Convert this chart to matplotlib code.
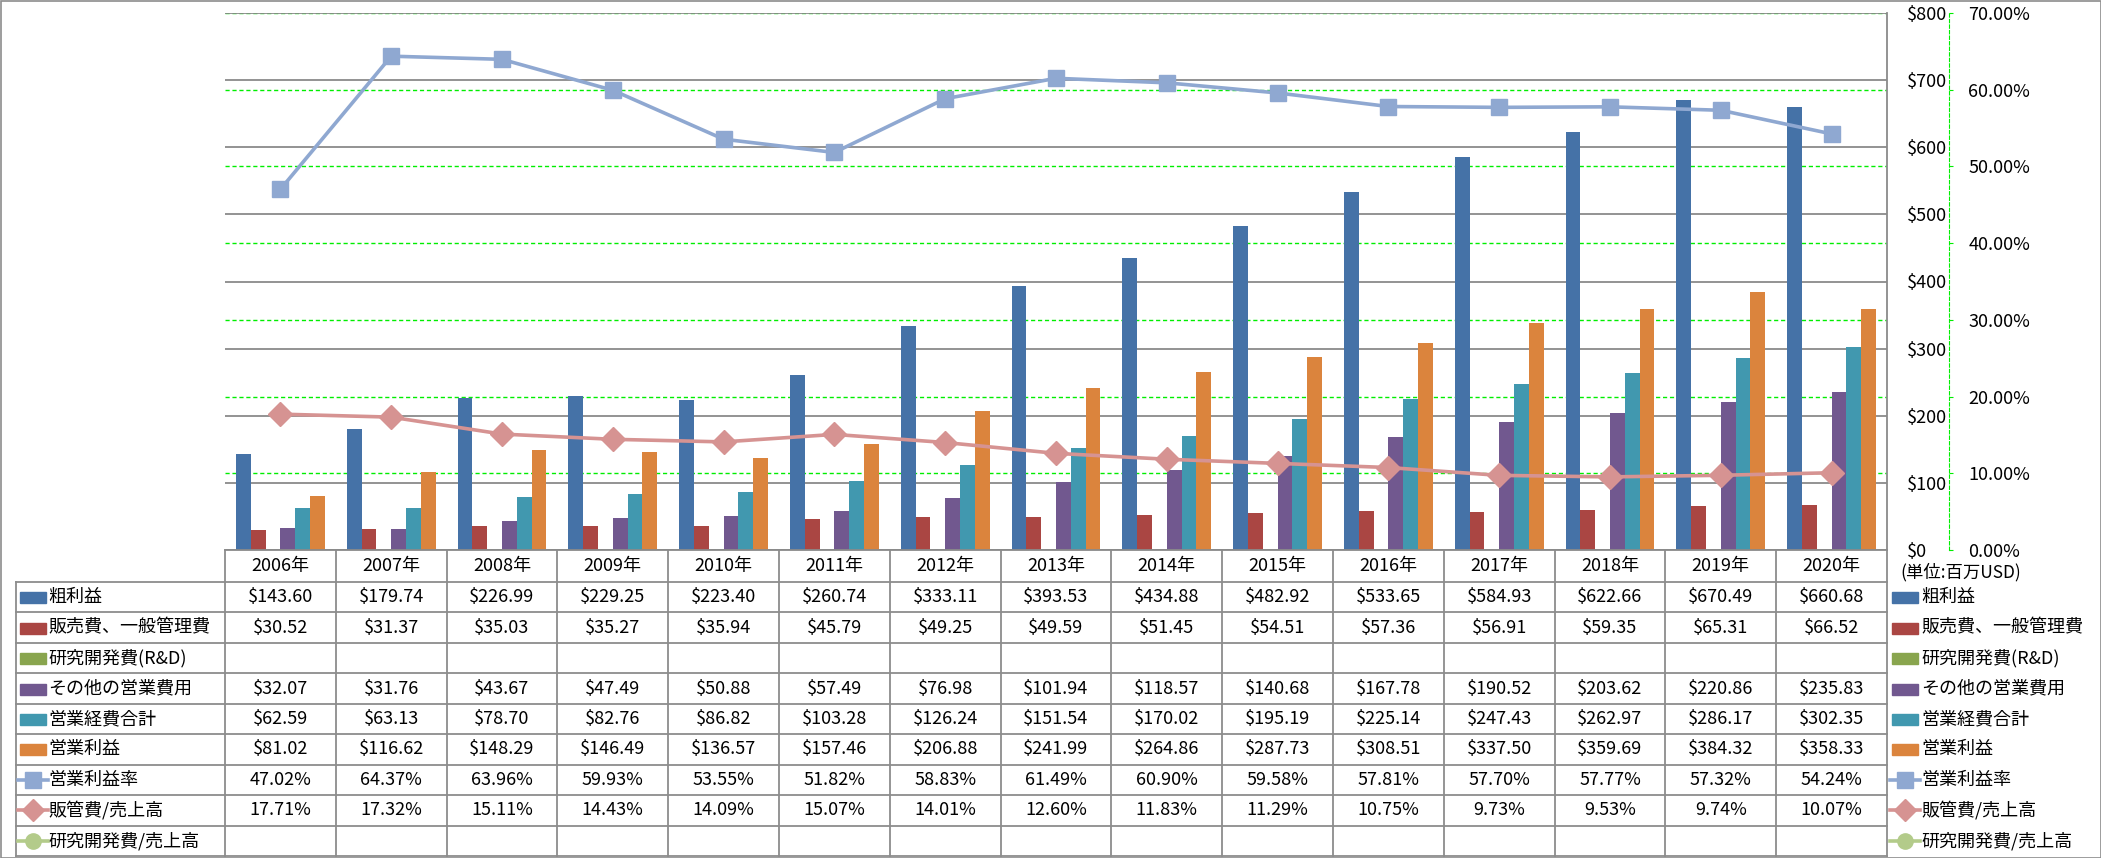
import numpy as np
import matplotlib
matplotlib.use('Agg')
import matplotlib.pyplot as plt
from matplotlib.transforms import blended_transform_factory
from matplotlib.lines import Line2D
from matplotlib.patches import Rectangle

plt.rcParams['font.family'] = ['Noto Sans CJK JP', 'DejaVu Sans']

# data (USD millions / percent)
years = ['2006年', '2007年', '2008年', '2009年', '2010年', '2011年', '2012年', '2013年',
         '2014年', '2015年', '2016年', '2017年', '2018年', '2019年', '2020年']
gross = [143.60, 179.74, 226.99, 229.25, 223.40, 260.74, 333.11, 393.53,
         434.88, 482.92, 533.65, 584.93, 622.66, 670.49, 660.68]
sga = [30.52, 31.37, 35.03, 35.27, 35.94, 45.79, 49.25, 49.59,
       51.45, 54.51, 57.36, 56.91, 59.35, 65.31, 66.52]
rnd = [None] * 15
other = [32.07, 31.76, 43.67, 47.49, 50.88, 57.49, 76.98, 101.94,
         118.57, 140.68, 167.78, 190.52, 203.62, 220.86, 235.83]
opex = [62.59, 63.13, 78.70, 82.76, 86.82, 103.28, 126.24, 151.54,
        170.02, 195.19, 225.14, 247.43, 262.97, 286.17, 302.35]
opinc = [81.02, 116.62, 148.29, 146.49, 136.57, 157.46, 206.88, 241.99,
         264.86, 287.73, 308.51, 337.50, 359.69, 384.32, 358.33]
op_margin = [47.02, 64.37, 63.96, 59.93, 53.55, 51.82, 58.83, 61.49,
             60.90, 59.58, 57.81, 57.70, 57.77, 57.32, 54.24]
sga_ratio = [17.71, 17.32, 15.11, 14.43, 14.09, 15.07, 14.01, 12.60,
             11.83, 11.29, 10.75, 9.73, 9.53, 9.74, 10.07]
rnd_ratio = [None] * 15

bar_names = ['粗利益', '販売費、一般管理費', '研究開発費(R&D)', 'その他の営業費用', '営業経費合計', '営業利益']
bar_data = [gross, sga, rnd, other, opex, opinc]
bar_colors = ['#4572A7', '#AA4643', '#89A54E', '#71588F', '#4198AF', '#DB843D']
line_names = ['営業利益率', '販管費/売上高', '研究開発費/売上高']
line_data = [op_margin, sga_ratio, rnd_ratio]
line_colors = ['#8FA8D1', '#D69392', '#B3CB8A']
line_markers = ['s', 'D', 'o']

W, H = 2101, 858
fig = plt.figure(figsize=(W / 100, H / 100), dpi=100)


def fx(px):
    return px / W


def fy(py):
    return 1 - py / H


rect = [fx(225), fy(550), fx(1887) - fx(225), fy(13) - fy(550)]
ax_pct = fig.add_axes(rect)
ax = fig.add_axes(rect, sharex=ax_pct)
ax_ln = fig.add_axes(rect, sharex=ax_pct)
x = np.arange(len(years))

# percent axis (bottom layer): green dashed grid and offset spine
ax_pct.set_ylim(0, 0.7)
pct_ticks = np.arange(0, 0.71, 0.1)
ax_pct.set_yticks(pct_ticks)
ax_pct.set_yticklabels([f'{v * 100:.2f}%' for v in pct_ticks])
ax_pct.yaxis.tick_right()
ax_pct.grid(axis='y', color='#00EE00', linestyle=(0, (3, 2)), linewidth=1)
for s in ['left', 'top', 'bottom']:
    ax_pct.spines[s].set_visible(False)
ax_pct.spines['right'].set_position(('outward', 62 * 0.72))
ax_pct.spines['right'].set_color('#00EE00')
ax_pct.spines['right'].set_linestyle((0, (3, 2)))
ax_pct.tick_params(axis='y', colors='#00EE00', labelcolor='black', length=3,
                   pad=11, labelsize=13)
ax_pct.tick_params(axis='x', bottom=False, labelbottom=False)

# bars with $ axis
w = 0.1336
for k, (vals, col) in enumerate(zip(bar_data, bar_colors)):
    if all(v is None for v in vals):
        continue
    ax.bar(x + (k - 2.5) * w, vals, width=w, color=col, zorder=2)
ax.set_xlim(-0.5, len(years) - 0.5)
ax.set_ylim(0, 800)
ax.set_yticks(np.arange(0, 801, 100))
ax.set_yticklabels([f'${v}' for v in range(0, 801, 100)])
ax.yaxis.tick_right()
ax.patch.set_visible(False)
ax.set_axisbelow(True)
ax.grid(axis='y', color='#8A8A8A', linewidth=1.3)
for s in ['left', 'top']:
    ax.spines[s].set_visible(False)
for s in ['right', 'bottom']:
    ax.spines[s].set_color('#8A8A8A')
    ax.spines[s].set_linewidth(1.3)
ax.tick_params(axis='y', length=0, pad=14.5, labelsize=13)
ax.tick_params(axis='x', bottom=False, labelbottom=False)

# ratio lines on top
ax_ln.set_ylim(0, 0.7)
ax_ln.axis('off')
for vals, col, mk in zip(line_data, line_colors, line_markers):
    if all(v is None for v in vals):
        continue
    ax_ln.plot(x, np.array(vals) / 100, color=col, linewidth=2.6, marker=mk,
               markersize=12, markeredgecolor=col, solid_joinstyle='round')

# data table below the plot
trans = blended_transform_factory(ax.transData, fig.transFigure)
grid_col = '#8C8C8C'
row_top = 582
row_h = (856 - 582) / 9
rows = bar_names + line_names
row_vals = bar_data + line_data
fmts = ['${:.2f}'] * 6 + ['{:.2f}%'] * 3

for i in range(len(years) + 1):
    fig.add_artist(Line2D([i - 0.5, i - 0.5], [fy(550), fy(856)], transform=trans,
                          color=grid_col, linewidth=1.3))
fig.add_artist(Line2D([fx(16), fx(16)], [fy(row_top), fy(856)], color=grid_col, linewidth=1.3))
for r in range(10):
    yy = fy(row_top + r * row_h)
    fig.add_artist(Line2D([fx(16), fx(1887)], [yy, yy], color=grid_col, linewidth=1.3))

for i, yr in enumerate(years):
    fig.text(i, fy(566), yr, transform=trans, ha='center', va='center', fontsize=13)


def key(xl, yc, idx):
    if idx < 6:
        fig.add_artist(Rectangle((fx(xl), fy(yc + 6)), fx(26), 11 / H,
                                 color=bar_colors[idx]))
    else:
        j = idx - 6
        fig.add_artist(Line2D([fx(xl - 2), fx(xl + 28)], [fy(yc), fy(yc)],
                              color=line_colors[j], linewidth=2.6))
        fig.add_artist(Line2D([fx(xl + 13)], [fy(yc)], marker=line_markers[j],
                              markersize=11, color=line_colors[j]))


for r, (name, vals, fmt) in enumerate(zip(rows, row_vals, fmts)):
    yc = row_top + (r + 0.5) * row_h
    key(20, yc, r)
    fig.text(fx(48), fy(yc), name, ha='left', va='center', fontsize=13)
    for i, v in enumerate(vals):
        if v is not None:
            fig.text(i, fy(yc), fmt.format(v), transform=trans, ha='center',
                     va='center', fontsize=13)
    # legend on the right
    key(1892, yc, r)
    fig.text(fx(1921), fy(yc), name, ha='left', va='center', fontsize=13)

fig.text(fx(1900), fy(572), '(単位:百万USD)', ha='left', va='center', fontsize=12.5)

fig.add_artist(Rectangle((fx(0.5), fy(857.5)), fx(2100), 857 / H, fill=False,
                         edgecolor='#8C8C8C', linewidth=1.2))

fig.savefig('out.png', dpi=100)
